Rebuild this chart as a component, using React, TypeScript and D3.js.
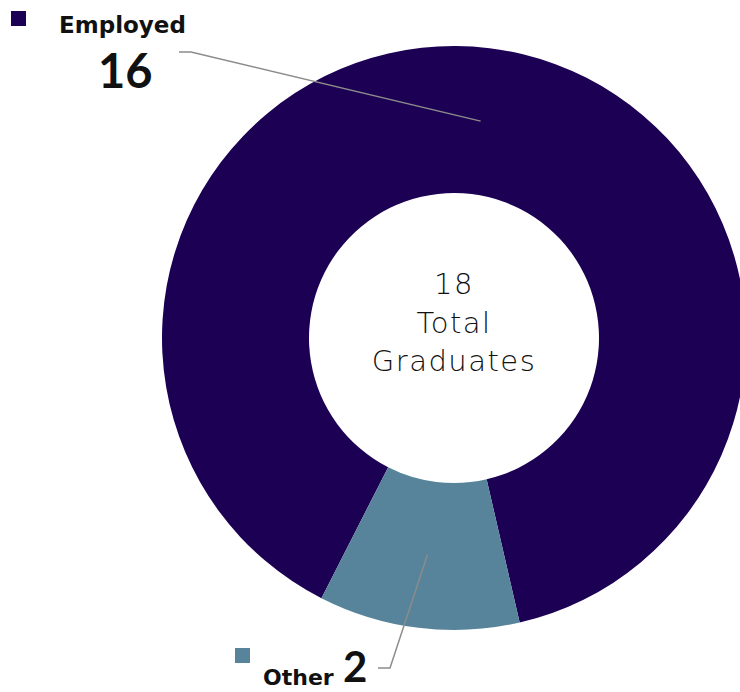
import { useEffect, useRef } from 'react'
import * as d3 from 'd3'

// chart data
const categories = ['Employed', 'Other']
const counts = [16, 2]
const colors = ['#1c0053', '#57849a']
const totalLabel = ['Total', 'Graduates']

const width = 740
const height = 692

export default function App() {
  const svgRef = useRef<SVGSVGElement>(null)

  useEffect(() => {
    if (!svgRef.current) return
    const svg = d3.select(svgRef.current)
    svg.selectAll('*').remove()

    const cx = 454
    const cy = 338
    const outerR = 292
    const innerR = 145

    const data = categories.map((c, i) => ({ name: c, value: counts[i], color: colors[i] }))
    const start = (207 / 180) * Math.PI
    const pie = d3.pie<typeof data[0]>()
      .value(d => d.value)
      .sort(null)
      .startAngle(start)
      .endAngle(start + 2 * Math.PI)
    const arc = d3.arc<d3.PieArcDatum<typeof data[0]>>()
      .innerRadius(innerR)
      .outerRadius(outerR)

    const arcs = pie(data)
    const g = svg.append('g').attr('transform', `translate(${cx},${cy})`)

    g.selectAll('path')
      .data(arcs)
      .enter()
      .append('path')
      .attr('d', arc)
      .attr('fill', d => d.data.color)

    // centre label
    const total = d3.sum(counts)
    const centre = g.append('text')
      .attr('text-anchor', 'middle')
      .attr('font-family', '"DejaVu Sans", sans-serif')
      .attr('font-weight', 200)
      .attr('font-size', 29)
      .attr('letter-spacing', 1.5)
      .attr('fill', '#111')
    ;[String(total), ...totalLabel].forEach((t, i) => {
      centre.append('tspan').attr('x', 0).attr('y', -44 + i * 38.5).text(t)
    })

    // leader lines, from slice centroid to the label
    const ends: [number, number, number][] = [
      [191, 52, 179],
      [390, 668, 378],
    ]
    arcs.forEach((a, i) => {
      const [px, py] = arc.centroid(a)
      const [ex, ey, hx] = ends[i]
      svg.append('polyline')
        .attr('points', `${cx + px},${cy + py} ${ex},${ey} ${hx},${ey}`)
        .attr('fill', 'none')
        .attr('stroke', '#8c8c8c')
        .attr('stroke-width', 1.5)
    })

    // Employed label
    svg.append('rect').attr('x', 11).attr('y', 11).attr('width', 15).attr('height', 15)
      .attr('fill', colors[0])
    svg.append('text')
      .attr('x', 59).attr('y', 33)
      .attr('font-family', '"DejaVu Sans", sans-serif')
      .attr('font-weight', 700)
      .attr('font-size', 23)
      .attr('fill', '#111')
      .text(categories[0])
    svg.append('text')
      .attr('x', 98).attr('y', 88)
      .attr('font-family', 'Lato, sans-serif')
      .attr('font-weight', 700)
      .attr('font-size', 47)
      .attr('fill', '#111')
      .text(counts[0])

    // Other label
    svg.append('rect').attr('x', 235).attr('y', 648).attr('width', 15).attr('height', 15)
      .attr('fill', colors[1])
    svg.append('text')
      .attr('x', 263).attr('y', 685)
      .attr('font-family', '"DejaVu Sans", sans-serif')
      .attr('font-weight', 700)
      .attr('font-size', 22)
      .attr('fill', '#111')
      .text(categories[1])
    svg.append('text')
      .attr('x', 343).attr('y', 682)
      .attr('font-family', 'Lato, sans-serif')
      .attr('font-weight', 700)
      .attr('font-size', 42)
      .attr('fill', '#111')
      .text(counts[1])
  }, [])

  return (
    <div style={{ position: 'absolute', left: 0, top: 0 }}>
      <svg ref={svgRef} width={width} height={height} style={{ display: 'block', background: '#fff' }} />
    </div>
  )
}
